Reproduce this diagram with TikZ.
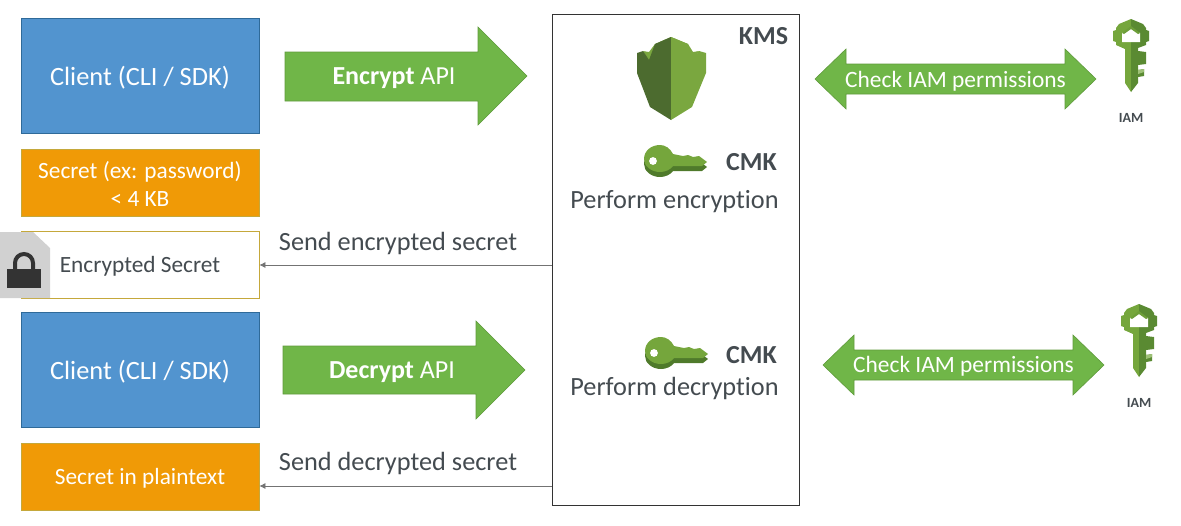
\documentclass[tikz,border=0pt]{standalone}
\usepackage{fontspec}
\usetikzlibrary{arrows.meta}
\setmainfont[Ligatures=NoCommon]{Carlito}
\definecolor{cblue}{HTML}{5294CF}
\definecolor{cbord}{HTML}{2F6A99}
\definecolor{corange}{HTML}{F09A06}
\definecolor{cgreen}{HTML}{70B648}
\definecolor{cgbord}{HTML}{5F9A3C}
\definecolor{gold}{HTML}{C5A83B}
\definecolor{txt}{HTML}{444B50}
\definecolor{shD}{HTML}{4C6B2F}
\definecolor{shL}{HTML}{7AA73F}
\definecolor{keyG}{HTML}{75A63C}
\definecolor{keyD}{HTML}{4F7A2B}
\definecolor{iamD}{HTML}{5A8A32}
\tikzset{
 x=1pt,y=-1pt,
 clientbox/.style={draw=cbord,fill=cblue,line width=0.8pt,minimum width=238pt,minimum height=115pt,inner sep=0pt},
 orangebox/.style={draw=gold,fill=corange,line width=0.8pt,minimum width=238pt,minimum height=67pt,inner sep=0pt},
 whitebox/.style={draw=gold,fill=white,line width=0.8pt,minimum width=238pt,minimum height=67pt,inner sep=0pt},
 whitebig/.style={text=white,font=\fontsize{26.4}{28}\selectfont,inner sep=0pt},
 whitesmall/.style={text=white,font=\fontsize{23.3}{28}\selectfont,inner sep=0pt,align=center},
 smalltext/.style={text=txt,font=\fontsize{23.3}{28}\selectfont,inner sep=0pt},
 labeltext/.style={text=txt,font=\fontsize{26.3}{28}\selectfont,inner sep=0pt},
 bigtext/.style={text=txt,font=\bfseries\fontsize{26}{28}\selectfont,inner sep=0pt},
 iamtext/.style={text=txt,font=\bfseries\fontsize{14}{16}\selectfont,inner sep=0pt},
 checktext/.style={text=white,font=\fontsize{23.4}{28}\selectfont,inner sep=0pt},
 flowarrow/.style={draw=cgbord,fill=cgreen,line width=0.6pt},
 conn/.style={draw=black!55,line width=0.7pt,-{Latex[length=6pt,width=6pt]}}
}
\newcommand{\KeyOutline}{(9,-15) .. controls (0,-15) and (-7,-9) .. (-7,-1) .. controls (-7,6) and (0,12) .. (9,12) .. controls (14,12) and (19,10) .. (22,6) -- (51,6) -- (56,2) -- (48,-4) -- (42,-3) -- (37,-5) -- (32,-4) -- (22,-6) .. controls (19,-12) and (14,-15) .. (9,-15) -- cycle}
\newcommand{\KeyIcon}[1]{\begin{scope}[shift={#1}]
  \begin{scope}[shift={(0,5)}]\fill[keyD] \KeyOutline;\end{scope}
  \fill[keyG] \KeyOutline;
  \fill[white] (2,1) circle[radius=3.9];
\end{scope}}
\newcommand{\IamIcon}[1]{\begin{scope}[shift={#1}]
  \fill[keyG] (0,0) -- (-12,5) -- (-15,9) -- (-15,11) -- (-18,12) -- (-18,22) -- (-15,23) -- (-15,26) -- (-6,30) -- (-6,64) -- (0,73) -- cycle;
  \fill[iamD] (0,0) -- (12,5) -- (15,9) -- (15,11) -- (18,12) -- (18,22) -- (15,23) -- (15,26) -- (7,29) -- (7,32) -- (15,33) -- (15,45) -- (7,46) -- (7,51) -- (13,50) -- (13,57) -- (7,58) -- (7,64) -- (0,73) -- cycle;
  \fill[keyG!70!white] (7,51) -- (13,50) -- (13,53) -- (7,55) -- cycle;
  \fill[white] (-9,14) -- (0,10) -- (9,14) -- (9,23) -- (-9,23) -- cycle;
  \fill[keyG!70!iamD] (-9,14) -- (0,7) -- (9,14) -- (7,15) -- (0,10) -- (-7,15) -- cycle;
\end{scope}}
\begin{document}
\begin{tikzpicture}
\useasboundingbox (0,0) rectangle (1181,525);
\node[clientbox] (c1) at (140,76) {};
\node[whitebig] (c1t) at (140,78) {Client (CLI / SDK)};
\node[orangebox] (sec) at (140,183) {};
\node[whitesmall] (sect) at (140,183.5) {Secret (ex: password)\\{}< 4 KB};
\node[whitebox] (enc) at (140,265) {};
\node[smalltext] (enct) at (140,266.5) {Encrypted Secret};
\node[clientbox] (c2) at (140,370) {};
\node[whitebig] (c2t) at (140,372) {Client (CLI / SDK)};
\node[orangebox] (pl) at (140,477) {};
\node[whitesmall] (plt) at (140,478) {Secret in plaintext};
\node[draw=black!80,line width=0.8pt,minimum width=247pt,minimum height=491pt,inner sep=0pt] (kms) at (675.5,259.5) {};

% doc icon
\fill[black!18] (0,232) -- (33,232) -- (50,248) -- (50,298) -- (0,298) -- cycle;
\draw[line width=4pt,draw=black!80] (15,272) -- (15,263) arc[start angle=180,end angle=360,radius=9] -- (33,272);
\fill[black!80] (7,269) rectangle (41,288);

% flow arrows
\path[flowarrow] (285,52) -- (478,52) -- (478,27) -- (527,76) -- (478,125) -- (478,101) -- (285,101) -- cycle;
\path[flowarrow] (283,346) -- (476,346) -- (476,321) -- (525,370) -- (476,419) -- (476,394) -- (283,394) -- cycle;
\path[flowarrow] (815,79) -- (846,49) -- (846,64) -- (1065,64) -- (1065,49) -- (1096,79) -- (1065,109) -- (1065,94) -- (846,94) -- (846,109) -- cycle;
\path[flowarrow] (823,365) -- (854,335) -- (854,350) -- (1073,350) -- (1073,335) -- (1104,365) -- (1073,395) -- (1073,380) -- (854,380) -- (854,395) -- cycle;

\node[text=white,font=\fontsize{26}{28}\selectfont,inner sep=0pt] (ea) at (394,78.5) {\textbf{Encrypt} API};
\node[text=white,font=\fontsize{26}{28}\selectfont,inner sep=0pt] (da) at (392,372) {\textbf{Decrypt} API};
\node[checktext] (ck1) at (955.5,81) {Check IAM permissions};
\node[checktext] (ck2) at (963.5,366) {Check IAM permissions};

% connectors
\draw[conn] (kms.west |- enc) -- (enc.east);
\draw[conn] (kms.west |- 0,486) -- (pl.east |- 0,486);

\node[labeltext] (se) at (398,243) {Send encrypted secret};
\node[labeltext] (sd) at (398,463) {Send decrypted secret};
\node[bigtext] (kt) at (763.5,36) {KMS};
\node[bigtext] (cm1) at (751.5,162.5) {CMK};
\node[bigtext] (cm2) at (751.5,355) {CMK};
\node[labeltext] (pe) at (674.5,202) {Perform encryption};
\node[labeltext] (pd) at (674.5,388.5) {Perform decryption};
\node[iamtext] (i1) at (1131,117.5) {IAM};
\node[iamtext] (i2) at (1139,402.5) {IAM};

% KMS shield
\fill[shL] (671,37) -- (655,44) -- (649,52) -- (643,51) -- (649,62) -- (693,62) -- (699,51) -- (693,52) -- (688,44) -- cycle;
\fill[shD] (671,37) -- (655,44) -- (649,60) -- (643,51) -- (637,53) -- (637,73) -- (650,107) -- (671,120) -- cycle;
\fill[shL] (671,37) -- (688,44) -- (693,60) -- (699,51) -- (706,53) -- (706,73) -- (692,107) -- (671,120) -- cycle;

\KeyIcon{(651,160)}
\KeyIcon{(652,352)}
\IamIcon{(1131,19)}
\IamIcon{(1139,304)}
\end{tikzpicture}
\end{document}
